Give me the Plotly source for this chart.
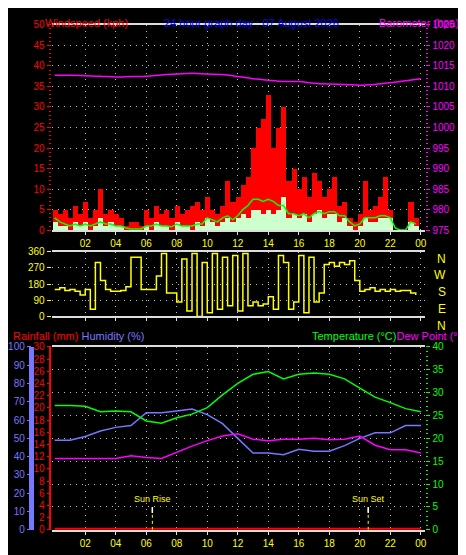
import plotly.graph_objects as go

# hourly series (0..24 h)
hours = list(range(25))
barometer = [1012.7, 1012.7, 1012.6, 1012.5, 1012.3, 1012.4, 1012.5, 1012.8, 1013.0, 1013.2, 1013.0, 1012.9,
             1012.4, 1011.9, 1011.5, 1011.2, 1011.2, 1010.8, 1010.6, 1010.5, 1010.3, 1010.5, 1010.9, 1011.4, 1011.9]
temperature = [27.2, 27.2, 27.0, 25.8, 26.0, 25.8, 23.8, 23.3, 24.5, 25.3, 26.7, 29.5,
               32.0, 34.0, 34.6, 33.0, 34.0, 34.3, 34.0, 33.0, 31.0, 29.0, 27.8, 26.5, 25.8]
humidity = [49, 49, 51, 54, 56, 57, 64, 64, 65, 66, 63, 58, 50, 42, 42, 41, 44, 43, 43, 46, 50, 53, 53, 57, 57]
dew_point = [15.6, 15.6, 15.7, 15.7, 15.6, 16.2, 15.8, 15.6, 17.0, 18.3, 19.5, 20.5,
             21.0, 19.8, 19.5, 19.8, 19.8, 20.0, 19.7, 19.8, 20.5, 18.5, 17.5, 17.5, 16.8]
rainfall = [0] * 25

# 20 minute series
t20 = [i / 3 for i in range(72)]
gust = [5, 4, 5, 3, 6, 4, 7, 3, 5, 10, 4, 5, 4, 3, 1, 2, 2, 1, 5, 3, 6, 4, 5, 3,
        6, 4, 5, 6, 7, 5, 8, 5, 4, 6, 12, 7, 8, 11, 13, 20, 25, 27, 33, 20, 25, 30, 12, 15,
        10, 13, 8, 14, 12, 8, 10, 13, 6, 7, 3, 2, 4, 12, 5, 6, 8, 13, 5, 0, 0, 0, 7, 3]
avg_wind = [2, 1, 1, 0, 2, 1, 2, 0, 1, 3, 1, 2, 1, 1, 0, 0, 0, 0, 1, 0, 2, 1, 1, 0,
            2, 1, 1, 0, 2, 1, 3, 2, 1, 2, 3, 2, 3, 4, 3, 5, 5, 4, 5, 4, 5, 8, 3, 4,
            3, 4, 2, 4, 5, 3, 4, 4, 2, 3, 1, 0, 1, 3, 2, 2, 3, 3, 3, 0, 0, 0, 2, 1]
avg_smooth = [3, 2, 1.5, 1, 1.5, 1, 1.5, 1, 1.5, 2, 1.5, 1.5, 1, 1, 0.5, 0.3, 0.3, 0.3, 1, 1, 1.5, 1, 1, 0.8,
              1.5, 1, 1, 1, 1.5, 1.5, 3, 2.5, 2, 3, 3.5, 2.5, 3.5, 5, 6, 7.5, 7.5, 7, 7.5, 7, 6, 6, 4, 4,
              3.5, 4, 3, 4, 4.5, 4, 4.5, 4.5, 3.5, 3.5, 2, 1, 1.5, 3, 3, 3, 3.5, 3.5, 3, 0.5, 0, 0, 2, 1.5]
direction = [150, 160, 145, 150, 140, 120, 150, 40, 300, 200, 150, 140,
             140, 145, 165, 330, 330, 150, 150, 150, 225, 350, 130, 130,
             80, 320, 30, 350, 0, 300, 20, 350, 40, 330, 60, 340,
             30, 350, 60, 80, 60, 70, 110, 40, 340, 300, 40, 80,
             340, 20, 330, 80, 130, 290, 300, 280, 300, 290, 310, 200,
             140, 150, 160, 140, 150, 140, 150, 140, 145, 145, 130, 120]

tick_hours = list(range(2, 25, 2))
tick_labels = ["02", "04", "06", "08", "10", "12", "14", "16", "18", "20", "22", "00"]
sun_rise = 6.4
sun_set = 20.55

font = "Liberation Sans"
frame = "#dddddd"
xr = [-0.2, 24.3]
xdom = [0.088, 0.897]

fig = go.Figure()
fig.add_trace(go.Bar(x=t20, y=gust, width=1 / 3, marker=dict(color="#ff0000", line_width=0), xaxis="x", yaxis="y"))
fig.add_trace(go.Bar(x=t20, y=avg_wind, width=1 / 3, marker=dict(color="#ccffcc", line_width=0), xaxis="x", yaxis="y"))
fig.add_trace(go.Scatter(x=t20, y=avg_smooth, mode="lines", line=dict(color="#00ff00", width=1.5), xaxis="x", yaxis="y"))
fig.add_trace(go.Scatter(x=hours, y=barometer, mode="lines", line=dict(color="#ff00ff", width=1.5, shape="spline"),
                         xaxis="x", yaxis="y2"))
fig.add_trace(go.Scatter(x=t20, y=direction, mode="lines", line=dict(color="#ffff00", width=1.5, shape="hv"),
                         xaxis="x2", yaxis="y3"))
fig.add_trace(go.Scatter(x=hours, y=rainfall, mode="lines", line=dict(color="#ff0000", width=4), xaxis="x3", yaxis="y4"))
fig.add_trace(go.Scatter(x=hours, y=humidity, mode="lines", line=dict(color="#7777ff", width=1.5), xaxis="x3", yaxis="y5"))
fig.add_trace(go.Scatter(x=hours, y=temperature, mode="lines", line=dict(color="#00ff00", width=1.5), xaxis="x3", yaxis="y6"))
fig.add_trace(go.Scatter(x=hours, y=dew_point, mode="lines", line=dict(color="#ff00ff", width=1.5), xaxis="x3", yaxis="y6"))

def xax(anchor, labels):
    return dict(domain=xdom, anchor=anchor, range=xr, tickvals=tick_hours, ticktext=tick_labels,
                showticklabels=labels, tickfont=dict(color="#ffff00", size=10), ticks="outside", ticklen=3,
                tickcolor=frame, showgrid=True, gridcolor="#bbbbbb", griddash="1px,5px", gridwidth=1,
                showline=True, linecolor=frame, linewidth=2, mirror=True, zeroline=False)

def yax(color, rng, dtick, side="left", nminor=5, **kw):
    d = dict(range=rng, dtick=dtick, side=side, tickfont=dict(color=color, size=10), ticks="outside",
             ticklen=4, tickcolor=color, showgrid=False, zeroline=False,
             minor=dict(ticks="outside", ticklen=2, tickcolor=color, nticks=nminor))
    d.update(kw)
    return d

grid = dict(showgrid=True, gridcolor="#bbbbbb", griddash="1px,5px")
fig.update_layout(
    width=466, height=555, margin=dict(l=0, r=0, t=0, b=0),
    paper_bgcolor="black", plot_bgcolor="black", showlegend=False, barmode="overlay", bargap=0,
    font=dict(family=font, size=10),
    xaxis=xax("y", True),
    xaxis2=xax("y3", False),
    xaxis3=xax("y4", True),
    yaxis=yax("#ff0000", [0, 50], 5, domain=[0.602, 0.980], anchor="x", **grid),
    yaxis2=yax("#ff00ff", [975, 1025], 5, side="right", overlaying="y", anchor="x"),
    yaxis3=yax("#ffff00", [0, 360], 90, domain=[0.443, 0.562], anchor="x2", minor=None, **grid),
    yaxis4=yax("#ff0000", [0, 30], 2, nminor=30, domain=[0.050, 0.387], anchor="x3"),
    yaxis5=yax("#7777ff", [0, 100], 10, nminor=20, overlaying="y4", anchor="free", position=0.045,
               showline=True, linecolor="#7777ff", linewidth=3),
    yaxis6=yax("#00ff00", [0, 40], 5, side="right", overlaying="y4", anchor="x3", **grid),
)

shapes = []
for s in (sun_rise, sun_set):
    shapes.append(dict(type="line", xref="x3", yref="y6", x0=s, x1=s, y0=0, y1=5,
                       line=dict(color="#ffff00", width=1, dash="dot")))
    shapes.append(dict(type="line", xref="x3", yref="y6", x0=s, x1=s, y0=3.7, y1=5,
                       line=dict(color="#ffffff", width=1.5)))
fig.update_layout(shapes=shapes)

ann = [
    ("<span style='color:#ff0000'>Windspeed (kph)</span>", 0.07, 0.999, "left"),
    ("<span style='color:#0000ff'>24 hour graph day : 07 August 2026</span>", 0.52, 0.999, "center"),
    ("<span style='color:#ff00ff'>Barometer (hpa)</span>", 0.975, 0.999, "right"),
    ("<span style='color:#ff0000'>Rainfall (mm)</span> <span style='color:#7777ff'>Humidity (%)</span>",
     0.0, 0.421, "left"),
    ("<span style='color:#00ff00'>Temperature (°C)</span><span style='color:#ff00ff'>Dew Point (°C)</span>",
     0.995, 0.421, "right"),
]
for text, x, y, anc in ann:
    fig.add_annotation(text=text, x=x, y=y, xref="paper", yref="paper", xanchor=anc, yanchor="top",
                       showarrow=False, font=dict(size=11))
for text, s in (("Sun Rise", sun_rise), ("Sun Set", sun_set)):
    fig.add_annotation(text=text, x=s, y=5.3, xref="x3", yref="y6", yanchor="bottom", showarrow=False,
                       font=dict(color="#ffff00", size=9))
for i, lab in enumerate(["N", "W", "S", "E", "N"]):
    fig.add_annotation(text=lab, x=0.945, y=0.566 - i * 0.031, xref="paper", yref="paper", yanchor="top",
                       showarrow=False, font=dict(color="#ffff00", size=12))

fig.write_html("out.html")
